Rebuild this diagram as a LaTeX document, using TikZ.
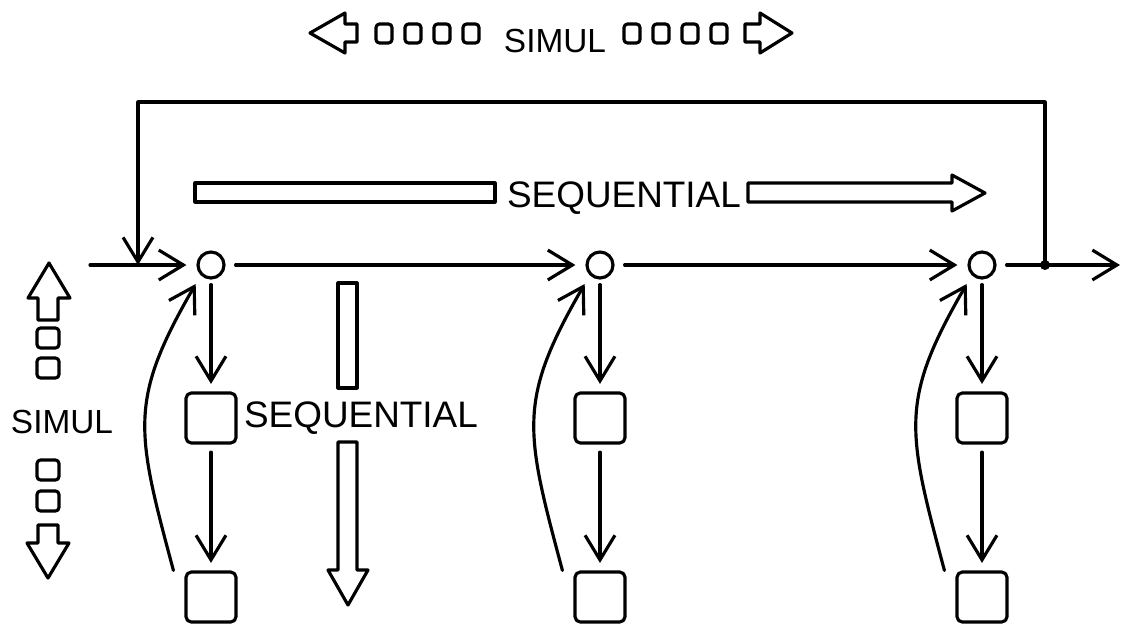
\documentclass[tikz,border=0pt]{standalone}
\usepackage{fontspec}
\setmainfont{Liberation Sans}
\usetikzlibrary{arrows.meta}

\begin{document}
\begin{tikzpicture}[x=0.02cm, y=-0.02cm, line width=1.8pt, line cap=round, line join=round,
    flow/.style={-{Straight Barb[length=14pt, width=17pt]}},
    joint/.style={circle, draw, minimum size=0.52cm, inner sep=0},
    cell/.style={draw, rounded corners=3pt, minimum size=1cm, inner sep=0},
    tag/.style={font=\fontsize{21}{21}\selectfont, inner sep=0, anchor=base},
    small tag/.style={tag, font=\fontsize{19}{19}\selectfont},
    tick/.style={rounded corners=2pt}]

    \useasboundingbox (0, 0) rectangle (1123, 627);

    \foreach \n/\x in {1/211, 2/600, 3/982} {
      \node [joint] (j\n) at (\x, 265) {};
      \node [cell] (u\n) at (\x, 418) {};
      \node [cell] (w\n) at (\x, 597) {};
    }

    \coordinate (in) at (90, 265);
    \coordinate (back) at (138, 265);
    \coordinate (fork) at (1045, 265);
    \coordinate (rim) at (1045, 102);
    \coordinate (out) at (1120, 265);

    \draw [flow, shorten >=0.2cm] (in) -- (j1);
    \draw [flow, shorten <=0.2cm, shorten >=0.2cm] (j1) -- (j2);
    \draw [flow, shorten <=0.2cm, shorten >=0.2cm] (j2) -- (j3);
    \draw [flow, shorten <=0.2cm] (j3) -- (out);
    \fill (fork) circle (0.1cm);
    \draw [flow] (fork) -- (rim) -| (back);

    \foreach \n in {1, 2, 3} {
      \draw [flow, shorten <=0.1cm, shorten >=0.15cm] (j\n) -- (u\n);
      \draw [flow, shorten <=0.15cm, shorten >=0.15cm] (u\n) -- (w\n);
      \draw [flow, shorten >=0.2cm] ([xshift=-0.22cm]w\n.north west)
      to [out=105, in=240, looseness=1.25] (j\n.south west);
    }

    \draw (357, 24) -- (345, 24) -- (345, 13) -- (310, 33) -- (345, 53)
    -- (345, 42) -- (357, 42) -- cycle;
    \foreach \x in {376, 405, 434, 463, 624, 653, 682, 711}
      \draw [tick] (\x, 24) rectangle ++(16, 19);
    \node [small tag] (simul top) at (555, 52) {SIMUL};
    \draw (745, 24) -- (760, 24) -- (760, 13) -- (792, 33) -- (760, 53)
    -- (760, 42) -- (745, 42) -- cycle;

    \draw (195, 183) rectangle (495, 202);
    \node [tag] (seq across) at (624, 207) {SEQUENTIAL};
    \draw (748, 183) -- (952, 183) -- (952, 175) -- (985, 193) -- (952, 211)
    -- (952, 202) -- (748, 202) -- cycle;

    \draw (338, 283) rectangle (357, 388);
    \node [tag] (seq down) at (361, 427) {SEQUENTIAL};
    \draw (338, 442) -- (338, 570) -- (328, 570) -- (348, 605) -- (368, 570)
    -- (357, 570) -- (357, 442) -- cycle;

    \draw (38, 320) -- (38, 298) -- (28, 298) -- (49, 263) -- (70, 298)
    -- (58, 298) -- (58, 320) -- cycle;
    \foreach \y in {328, 358, 460, 491}
      \draw [tick] (37, \y) rectangle ++(22, 20);
    \node [small tag] (simul left) at (62, 433) {SIMUL};
    \draw (38, 525) -- (38, 543) -- (27, 543) -- (48, 578) -- (69, 543)
    -- (58, 543) -- (58, 525) -- cycle;

\end{tikzpicture}
\end{document}
